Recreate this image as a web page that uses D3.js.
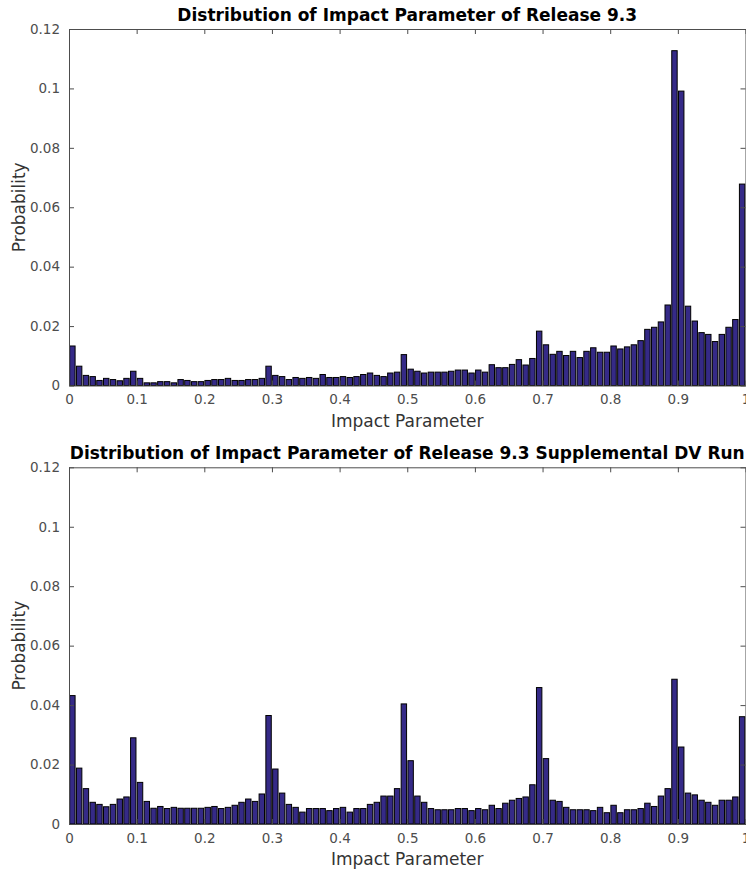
<!DOCTYPE html>
<html>
<head>
<meta charset="utf-8">
<script src="https://cdn.jsdelivr.net/npm/d3@7"></script>
<style>
  body { margin: 0; background: #fff; }
  svg { display: block; }
</style>
</head>
<body>
<div id="chart"></div>
<script>
// bins: 100 bins of width 0.01 between 0 and 1
const binCount = 100;
const binWidth = 0.01;

const xTickValues = [0, 0.1, 0.2, 0.3, 0.4, 0.5, 0.6, 0.7, 0.8, 0.9, 1];
const xTickLabels = ["0", "0.1", "0.2", "0.3", "0.4", "0.5", "0.6", "0.7", "0.8", "0.9", "1"];
const yTickValues = [0, 0.02, 0.04, 0.06, 0.08, 0.1, 0.12];
const yTickLabels = ["0", "0.02", "0.04", "0.06", "0.08", "0.1", "0.12"];

// probability per bin
const release93 = [
  0.0133, 0.0065, 0.0034, 0.0030, 0.0017, 0.0024, 0.0020, 0.0016, 0.0024, 0.0048,
  0.0024, 0.0009, 0.0009, 0.0013, 0.0013, 0.0009, 0.0020, 0.0017, 0.0013, 0.0013,
  0.0017, 0.0020, 0.0020, 0.0024, 0.0017, 0.0017, 0.0020, 0.0020, 0.0024, 0.0065,
  0.0034, 0.0030, 0.0020, 0.0027, 0.0024, 0.0027, 0.0024, 0.0037, 0.0027, 0.0027,
  0.0030, 0.0027, 0.0030, 0.0037, 0.0042, 0.0034, 0.0030, 0.0042, 0.0045, 0.0104,
  0.0055, 0.0048, 0.0042, 0.0045, 0.0045, 0.0045, 0.0048, 0.0052, 0.0052, 0.0042,
  0.0052, 0.0045, 0.0070, 0.0060, 0.0060, 0.0071, 0.0087, 0.0069, 0.0091, 0.0183,
  0.0137, 0.0105, 0.0115, 0.0101, 0.0115, 0.0094, 0.0115, 0.0127, 0.0112, 0.0112,
  0.0133, 0.0123, 0.0130, 0.0137, 0.0151, 0.0189, 0.0196, 0.0214, 0.0271, 0.1127,
  0.0991, 0.0267, 0.0217, 0.0178, 0.0172, 0.0148, 0.0172, 0.0196, 0.0222, 0.0678
];

const supplementalDV = [
  0.0432, 0.0188, 0.0119, 0.0073, 0.0066, 0.0058, 0.0066, 0.0084, 0.0091, 0.0290,
  0.0140, 0.0076, 0.0053, 0.0059, 0.0052, 0.0056, 0.0053, 0.0053, 0.0053, 0.0053,
  0.0056, 0.0059, 0.0052, 0.0056, 0.0063, 0.0073, 0.0084, 0.0076, 0.0101, 0.0365,
  0.0185, 0.0104, 0.0066, 0.0056, 0.0040, 0.0052, 0.0052, 0.0052, 0.0045, 0.0052,
  0.0056, 0.0040, 0.0052, 0.0052, 0.0066, 0.0073, 0.0094, 0.0094, 0.0119, 0.0404,
  0.0213, 0.0094, 0.0073, 0.0052, 0.0048, 0.0048, 0.0048, 0.0052, 0.0052, 0.0045,
  0.0052, 0.0048, 0.0063, 0.0052, 0.0070, 0.0080, 0.0086, 0.0091, 0.0132, 0.0459,
  0.0220, 0.0080, 0.0076, 0.0056, 0.0048, 0.0048, 0.0048, 0.0045, 0.0056, 0.0038,
  0.0063, 0.0038, 0.0048, 0.0048, 0.0052, 0.0070, 0.0059, 0.0094, 0.0119, 0.0487,
  0.0259, 0.0104, 0.0098, 0.0080, 0.0073, 0.0063, 0.0080, 0.0080, 0.0091, 0.0361
];

const width = 746, height = 876;
const barFill = "#352a87";
const axisColor = "#4d4d4d";
const font = "'DejaVu Sans', sans-serif";

const svg = d3.select("#chart").append("svg")
  .attr("width", width)
  .attr("height", height);

const panels = [
  {title: "Distribution of Impact Parameter of Release 9.3", values: release93, top: 29, bottom: 385.5},
  {title: "Distribution of Impact Parameter of Release 9.3 Supplemental DV Run", values: supplementalDV, top: 467.3, bottom: 824}
];

panels.forEach(p => drawPanel(p));

function drawPanel(p) {
  const left = 69, right = 745.5;

  const x = d3.scaleLinear().domain([0, 1]).range([left, right]);
  const y = d3.scaleLinear().domain([0, 0.12]).range([p.bottom, p.top]);

  const g = svg.append("g");

  // bars, centred on each bin, 80% of bin width (matlab default)
  const bins = p.values.map((v, i) => ({x0: i * binWidth, v}));
  g.append("g")
    .selectAll("rect")
    .data(bins)
    .join("rect")
    .attr("x", d => x(d.x0 + binWidth * 0.1))
    .attr("width", x(binWidth * 0.8) - x(0))
    .attr("y", d => y(d.v))
    .attr("height", d => y(0) - y(d.v))
    .attr("fill", barFill)
    .attr("stroke", "#000")
    .attr("stroke-width", 1);

  // axes with inward ticks on all four sides
  const tickLen = 5;
  const xBottom = d3.axisBottom(x).tickValues(xTickValues)
    .tickFormat((d, i) => xTickLabels[i]).tickSizeInner(-tickLen).tickSizeOuter(0).tickPadding(9);
  const xTop = d3.axisTop(x).tickValues(xTickValues)
    .tickFormat("").tickSizeInner(-tickLen).tickSizeOuter(0);
  const yLeft = d3.axisLeft(y).tickValues(yTickValues)
    .tickFormat((d, i) => yTickLabels[i]).tickSizeInner(-tickLen).tickSizeOuter(0).tickPadding(9);
  const yRight = d3.axisRight(y).tickValues(yTickValues)
    .tickFormat("").tickSizeInner(-tickLen).tickSizeOuter(0);

  const axes = [
    g.append("g").attr("transform", `translate(0,${p.bottom})`).call(xBottom),
    g.append("g").attr("transform", `translate(0,${p.top})`).call(xTop),
    g.append("g").attr("transform", `translate(${left},0)`).call(yLeft),
    g.append("g").attr("transform", `translate(${right},0)`).call(yRight)
  ];
  axes.forEach(a => {
    a.selectAll("path, line").attr("stroke", axisColor);
    a.selectAll("text")
      .attr("fill", axisColor)
      .style("font-family", font)
      .style("font-size", "13.5px");
  });

  // title
  g.append("text")
    .attr("x", (left + right) / 2)
    .attr("y", p.top - 8)
    .attr("text-anchor", "middle")
    .style("font-family", font)
    .style("font-weight", "bold")
    .style("font-size", "17px")
    .attr("fill", "#000")
    .text(p.title);

  // axis labels
  g.append("text")
    .attr("x", (left + right) / 2)
    .attr("y", p.bottom + 41)
    .attr("text-anchor", "middle")
    .style("font-family", font)
    .style("font-size", "17px")
    .attr("fill", "#333")
    .text("Impact Parameter");

  g.append("text")
    .attr("transform", `translate(25,${(p.top + p.bottom) / 2}) rotate(-90)`)
    .attr("text-anchor", "middle")
    .style("font-family", font)
    .style("font-size", "17px")
    .attr("fill", "#333")
    .text("Probability");
}
</script>
</body>
</html>
